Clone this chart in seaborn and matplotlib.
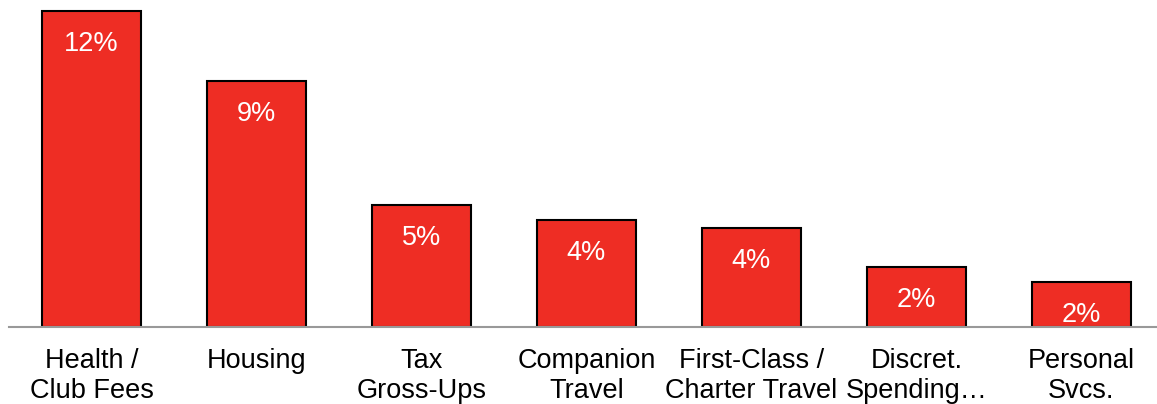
import matplotlib
matplotlib.use("Agg")
import matplotlib.pyplot as plt
import seaborn as sns
import pandas as pd

categories = ["Health /\nClub Fees", "Housing", "Tax\nGross-Ups", "Companion\nTravel",
              "First-Class /\nCharter Travel", "Discret.\nSpending…", "Personal\nSvcs."]
values = [12.0, 9.35, 4.65, 4.07, 3.77, 2.28, 1.72]
labels = ["12%", "9%", "5%", "4%", "4%", "2%", "2%"]

sns.set_theme(style="white")
plt.rcParams['font.family'] = ['Liberation Sans', 'DejaVu Sans']

W, H = 1157, 404
fig = plt.figure(figsize=(W / 100, H / 100), dpi=100)
left_px, base_px, top_px = 9, 327, 0
ax = fig.add_axes([left_px / W, (H - base_px) / H, 1 - left_px / W, (base_px - top_px) / H])

df = pd.DataFrame({"cat": categories, "val": values})
sns.barplot(data=df, x="cat", y="val", color="#EE2D24", saturation=1, width=0.6,
            edgecolor="black", linewidth=1.5, ax=ax)

ax.set_xlim(-0.5, 6.5 - 7 / 165)
ax.set_ylim(0, 12.42)
ax.set_xlabel("")
ax.set_ylabel("")
ax.set_yticks([])
for s in ["top", "right", "left"]:
    ax.spines[s].set_visible(False)
ax.spines["bottom"].set_color("#999999")
ax.spines["bottom"].set_linewidth(1.5)
ax.spines["bottom"].set_zorder(5)
ax.tick_params(axis="x", length=0, pad=15, labelsize=19.5, labelcolor="black")
for t in ax.get_xticklabels():
    t.set_linespacing(1.2)

px_per_unit = (base_px - top_px) / 12.42
for i, (v, lab) in enumerate(zip(values, labels)):
    ax.text(i, v - 33 / px_per_unit, lab, ha="center", va="center",
            color="white", fontsize=19.5)

fig.savefig("out.png", dpi=100)
